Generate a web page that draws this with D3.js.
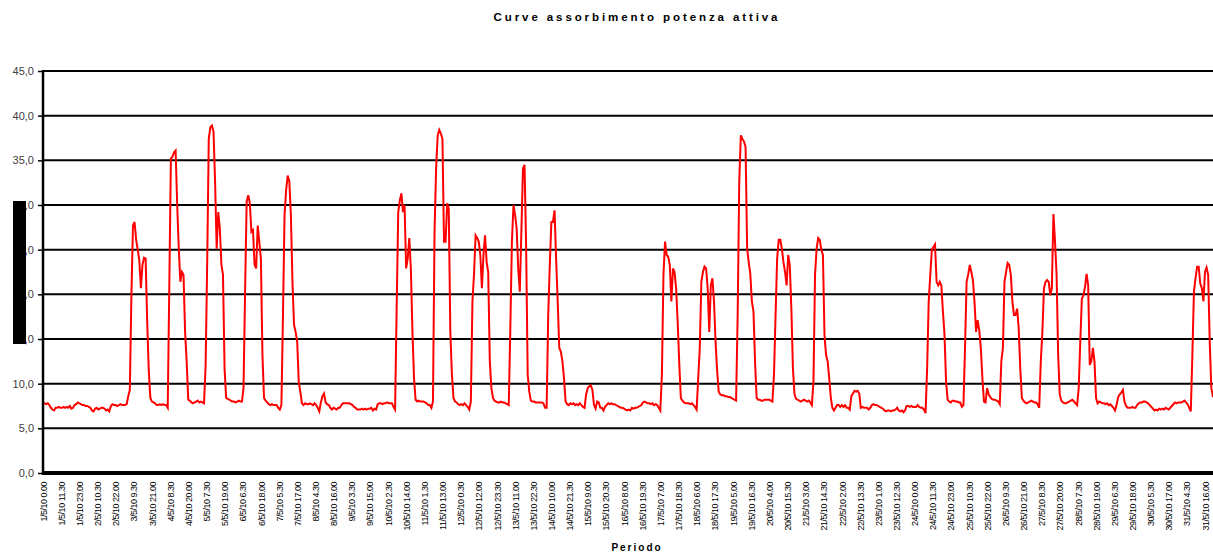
<!DOCTYPE html>
<html>
<head>
<meta charset="utf-8">
<script src="https://cdn.jsdelivr.net/npm/d3@7"></script>
<style>
  body { margin: 0; background: #fff; }
  svg { display: block; font-family: "Liberation Sans", Arial, sans-serif; }
  .title { font-size: 11.5px; font-weight: bold; letter-spacing: 2.9px; }
  .x-title { font-size: 10px; font-weight: bold; letter-spacing: 2px; }
  .y-axis text { font-size: 11px; fill: #404040; }
  .x-axis text { font-size: 9px; letter-spacing: -0.5px; fill: #000; }
</style>
</head>
<body>
<svg id="chart"></svg>
<script>
// potenza attiva, valori orari dal 1/5/10 al 31/5/10 (una riga = un giorno)
const week1 = [
  7.8,7.8,7.7,7.8,7.6,7.3,7.1,7.0,7.3,7.3,7.4,7.3,7.3,7.4,7.3,7.4,7.3,7.5,7.2,7.3,7.6,7.7,7.9,7.8,
  7.7,7.6,7.6,7.5,7.5,7.4,7.3,7.0,6.9,7.2,7.3,7.1,7.2,7.3,7.3,7.2,7.0,7.1,6.9,7.5,7.7,7.6,7.6,7.5,
  7.6,7.7,7.6,7.6,7.6,7.7,8.6,9.3,19.9,27.7,28.1,26.1,25.0,23.8,20.7,23.3,24.1,24.0,16.9,11.4,8.4,8.0,7.9,7.8,
  7.6,7.6,7.7,7.6,7.7,7.6,7.6,7.3,20.9,35.2,35.4,35.9,36.1,30.0,25.1,21.4,22.5,22.2,15.8,12.5,8.2,8.1,7.9,7.8,
  7.9,8.0,8.1,7.9,8.0,7.9,7.8,12.0,23.6,37.4,38.7,38.9,38.2,32.6,25.1,29.2,27.4,23.3,22.2,11.7,8.4,8.3,8.2,8.1,
  8.0,8.0,7.9,8.0,8.1,8.0,8.0,9.5,20.3,30.4,31.1,30.2,27.0,27.2,23.3,22.9,27.7,25.9,24.0,13.2,8.4,8.1,7.9,7.7,
  7.6,7.7,7.6,7.6,7.6,7.3,7.1,7.6,17.7,28.9,31.7,33.3,32.7,28.9,21.4,16.6,15.8,14.7,10.2,9.1,7.8,7.6,7.8,7.7
];
const week2 = [
  7.7,7.8,7.7,7.6,7.8,7.6,7.3,6.9,7.9,8.6,8.9,7.9,7.7,7.6,7.3,7.1,7.3,7.2,7.1,7.3,7.3,7.6,7.8,7.8,
  7.8,7.8,7.8,7.7,7.6,7.4,7.3,7.1,7.1,7.1,7.2,7.1,7.2,7.1,7.2,7.2,7.3,7.0,7.2,7.1,7.7,7.8,7.8,7.7,
  7.8,7.8,7.9,7.8,7.8,7.8,7.4,7.1,18.4,29.2,30.5,31.3,29.2,30.0,22.9,24.0,26.3,22.9,15.8,10.6,8.2,8.0,8.1,8.0,
  8.0,8.0,7.9,7.8,7.6,7.6,7.3,8.0,27.0,34.1,37.8,38.4,38.0,37.4,25.9,25.9,30.2,29.6,15.8,11.0,8.4,8.0,7.9,7.7,
  7.6,7.7,7.6,7.8,7.6,7.4,7.1,8.0,19.2,22.2,26.6,26.3,25.9,24.4,20.7,24.4,26.6,23.6,22.5,12.5,9.5,8.4,8.1,8.0,
  7.9,7.9,8.0,7.9,7.9,7.8,7.7,7.6,16.2,25.9,30.0,28.9,27.4,22.9,20.3,27.0,34.1,34.5,25.5,11.0,9.1,8.1,8.0,8.0,
  7.9,7.9,7.9,7.9,7.9,7.8,7.3,7.3,17.7,23.3,28.1,28.1,29.4,24.0,19.2,14.0,13.6,12.5,10.6,8.0,7.7,7.6,7.8,7.7
];
const week3 = [
  7.8,7.6,7.7,7.6,7.8,7.6,7.4,7.3,8.8,9.5,9.7,9.8,9.3,7.6,7.2,8.0,7.9,7.3,7.3,7.0,7.4,7.6,7.8,7.7,
  7.8,7.7,7.7,7.6,7.5,7.4,7.3,7.3,7.2,7.1,7.0,7.1,7.0,7.3,7.2,7.3,7.3,7.4,7.5,7.6,7.9,8.0,7.9,7.8,
  7.8,7.7,7.8,7.6,7.7,7.6,7.3,7.0,11.0,22.2,25.9,24.4,24.2,23.3,19.2,22.9,22.5,20.7,16.9,12.3,8.4,8.1,7.9,7.8,
  7.8,7.8,7.7,7.8,7.6,7.4,7.1,10.6,14.0,21.4,22.5,23.1,22.9,20.7,15.8,21.0,21.8,19.2,14.7,11.4,9.1,8.8,8.7,8.7,
  8.6,8.6,8.5,8.5,8.4,8.3,8.2,8.1,17.7,32.6,37.8,37.4,37.1,36.5,25.1,23.6,22.3,19.2,18.1,12.5,8.4,8.2,8.2,8.1,
  8.1,8.2,8.2,8.2,8.2,8.1,8.0,11.0,17.7,24.0,26.1,26.1,25.1,23.6,22.5,21.0,24.4,23.3,18.4,11.7,8.8,8.3,8.2,8.1,
  8.0,8.1,8.2,8.1,8.0,8.1,7.9,7.6,10.2,22.2,25.1,26.3,26.1,25.0,24.4,15.4,13.2,12.5,10.6,8.4,7.3,7.0,7.3,7.6
];
const week4 = [
  7.6,7.4,7.6,7.4,7.6,7.3,7.3,7.1,8.6,8.9,9.2,9.1,9.2,8.9,7.3,7.4,7.3,7.3,7.3,7.1,7.3,7.6,7.7,7.6,
  7.6,7.5,7.4,7.3,7.2,7.0,6.9,7.0,7.0,6.9,7.0,7.0,7.1,7.3,7.0,6.9,7.0,6.8,7.0,7.5,7.5,7.4,7.5,7.4,
  7.4,7.4,7.6,7.4,7.3,7.3,7.1,6.7,11.7,19.2,22.2,25.0,25.3,25.6,21.4,21.0,21.4,21.0,18.1,15.5,10.2,8.2,8.0,7.9,
  8.1,8.1,8.0,8.0,7.9,7.9,7.4,7.6,14.0,21.4,22.2,23.3,22.5,21.6,19.2,15.8,17.1,16.0,14.0,10.6,8.0,7.9,9.5,8.8,
  8.5,8.3,8.2,8.2,8.1,8.0,7.7,12.5,14.0,21.4,22.5,23.5,23.3,22.2,19.2,17.7,17.7,18.4,16.2,11.7,8.4,8.1,7.9,7.8,
  7.9,8.0,8.1,8.0,7.9,7.9,7.7,7.3,12.5,15.8,20.7,21.4,21.6,21.4,19.9,20.7,29.0,25.9,22.2,13.2,8.8,8.1,7.9,7.8,
  7.8,7.9,8.0,8.1,8.2,8.0,7.8,7.6,9.5,14.7,19.5,19.9,20.8,22.3,21.0,12.1,12.5,14.0,12.5,8.4,7.8,8.0,7.9,7.8
];
const week5 = [
  7.8,7.7,7.8,7.6,7.7,7.5,7.3,7.0,7.6,8.5,8.8,9.0,9.3,8.0,7.5,7.3,7.3,7.3,7.4,7.3,7.3,7.6,7.8,7.9,
  7.9,8.0,8.0,7.9,7.8,7.6,7.4,7.2,7.0,7.1,7.0,7.2,7.1,7.2,7.1,7.3,7.2,7.1,7.3,7.5,7.7,7.9,7.8,7.9,
  7.9,7.9,8.0,8.1,7.9,7.7,7.3,6.9,13.2,20.3,21.8,23.1,23.1,21.2,20.7,19.2,22.5,23.0,22.2,14.7,9.5,8.6,8.4,8.2
];

const tickLabels = [
  "1/5/10 0.00","1/5/10 11.30","1/5/10 23.00","2/5/10 10.30","2/5/10 22.00","3/5/10 9.30","3/5/10 21.00",
  "4/5/10 8.30","4/5/10 20.00","5/5/10 7.30","5/5/10 19.00","6/5/10 6.30","6/5/10 18.00","7/5/10 5.30",
  "7/5/10 17.00","8/5/10 4.30","8/5/10 16.00","9/5/10 3.30","9/5/10 15.00","10/5/10 2.30","10/5/10 14.00",
  "11/5/10 1.30","11/5/10 13.00","12/5/10 0.30","12/5/10 12.00","12/5/10 23.30","13/5/10 11.00","13/5/10 22.30",
  "14/5/10 10.00","14/5/10 21.30","15/5/10 9.00","15/5/10 20.30","16/5/10 8.00","16/5/10 19.30","17/5/10 7.00",
  "17/5/10 18.30","18/5/10 6.00","18/5/10 17.30","19/5/10 5.00","19/5/10 16.30","20/5/10 4.00","20/5/10 15.30",
  "21/5/10 3.00","21/5/10 14.30","22/5/10 2.00","22/5/10 13.30","23/5/10 1.00","23/5/10 12.30","24/5/10 0.00",
  "24/5/10 11.30","24/5/10 23.00","25/5/10 10.30","25/5/10 22.00","26/5/10 9.30","26/5/10 21.00","27/5/10 8.30",
  "27/5/10 20.00","28/5/10 7.30","28/5/10 19.00","29/5/10 6.30","29/5/10 18.00","30/5/10 5.30","30/5/10 17.00",
  "31/5/10 4.30","31/5/10 16.00"
];

const yTicks = [0, 5, 10, 15, 20, 25, 30, 35, 40, 45];

class LineChart {
  constructor(_config, _data) {
    this.config = {
      parentElement: _config.parentElement,
      containerWidth: _config.containerWidth || 1213,
      containerHeight: _config.containerHeight || 552,
      margin: _config.margin || { top: 71, bottom: 79, right: 0, left: 43 },
    };
    this.title = _config.title;
    this.xAxisLabel = _config.xAxisLabel;
    this.data = _data;
    this.initVis();
  }

  initVis() {
    let vis = this;

    vis.height =
      vis.config.containerHeight - vis.config.margin.top - vis.config.margin.bottom;

    // 1 ora = 1.579 px, il mese esce leggermente a destra come nell'originale
    vis.xScale = d3.scaleLinear().domain([0, 744]).range([0, 744 * 1.5788]);
    vis.yScale = d3.scaleLinear().domain([0, 45]).range([vis.height, 0]);

    const it = d3.formatLocale({ decimal: ",", thousands: ".", grouping: [3], currency: ["€", ""] });
    vis.yAxis = d3.axisLeft(vis.yScale).tickValues(yTicks).tickSize(5).tickFormat(it.format(".1f"));

    vis.svg = d3
      .select(vis.config.parentElement)
      .attr("width", vis.config.containerWidth)
      .attr("height", vis.config.containerHeight);

    vis.chart = vis.svg
      .append("g")
      .attr("transform", `translate(${vis.config.margin.left}, ${vis.config.margin.top})`);

    vis.gridGroup = vis.chart.append("g").attr("class", "grid");
    vis.lineGroup = vis.chart.append("g");
    vis.xAxisGroup = vis.chart.append("g").attr("class", "axis x-axis")
      .attr("transform", `translate(0,${vis.height})`);
    vis.yAxisGroup = vis.chart.append("g").attr("class", "axis y-axis");

    vis.svg.append("text")
      .attr("class", "title")
      .attr("x", 637)
      .attr("y", 21)
      .attr("text-anchor", "middle")
      .text(vis.title);

    vis.svg.append("text")
      .attr("class", "x-title")
      .attr("x", 637)
      .attr("y", 551)
      .attr("text-anchor", "middle")
      .text(vis.xAxisLabel);
  }

  updateVis() {
    let vis = this;
    // posizione in ore di ogni etichetta "g/m/aa h.mm"
    vis.tickHours = tickLabels.map((s) => {
      const [date, time] = s.split(" ");
      const day = +date.split("/")[0];
      const [h, m] = time.split(".").map(Number);
      return (day - 1) * 24 + h + m / 60;
    });
    vis.renderVis();
  }

  renderVis() {
    let vis = this;
    const right = vis.config.containerWidth - vis.config.margin.left;

    vis.gridGroup.selectAll("line")
      .data(yTicks.filter((d) => d > 0))
      .join("line")
      .attr("x1", 0)
      .attr("x2", right)
      .attr("y1", (d) => vis.yScale(d))
      .attr("y2", (d) => vis.yScale(d))
      .attr("stroke", "#000")
      .attr("stroke-width", 2);

    const line = d3.line()
      .x((d, i) => vis.xScale(i))
      .y((d) => vis.yScale(d));

    vis.lineGroup.append("path")
      .datum(vis.data)
      .attr("fill", "none")
      .attr("stroke", "#ff0000")
      .attr("stroke-width", 2)
      .attr("d", line);

    vis.xAxis = d3.axisBottom(vis.xScale)
      .tickValues(vis.tickHours)
      .tickSize(0)
      .tickFormat((d, i) => tickLabels[i]);

    vis.xAxisGroup.call(vis.xAxis);
    vis.xAxisGroup.select(".domain").remove();
    vis.xAxisGroup.selectAll(".tick text")
      .attr("transform", "rotate(-90)")
      .attr("x", -9)
      .attr("y", 0)
      .attr("dy", "0.35em")
      .style("text-anchor", "end");
    vis.xAxisGroup.append("line")
      .attr("x1", -1)
      .attr("x2", right)
      .attr("stroke", "#000")
      .attr("stroke-width", 4);

    vis.yAxisGroup.call(vis.yAxis);
    vis.yAxisGroup.select(".domain").remove();
    vis.yAxisGroup.selectAll(".tick line").attr("stroke", "#000").attr("stroke-width", 1.5);
    vis.yAxisGroup.selectAll(".tick text").attr("x", -9);
    vis.yAxisGroup.append("line")
      .attr("x1", 0).attr("x2", 0)
      .attr("y1", -1).attr("y2", vis.height + 2)
      .attr("stroke", "#000")
      .attr("stroke-width", 2.5);

    // riquadro nero sopra le etichette dell'asse y
    vis.svg.append("rect")
      .attr("x", 13)
      .attr("y", 201)
      .attr("width", 13)
      .attr("height", 143)
      .attr("fill", "#000");
  }
}

const hourly = [...week1, ...week2, ...week3, ...week4, ...week5];

const chart = new LineChart(
  {
    parentElement: "#chart",
    title: "Curve assorbimento potenza attiva",
    xAxisLabel: "Periodo",
  },
  hourly
);
chart.updateVis();
</script>
</body>
</html>
